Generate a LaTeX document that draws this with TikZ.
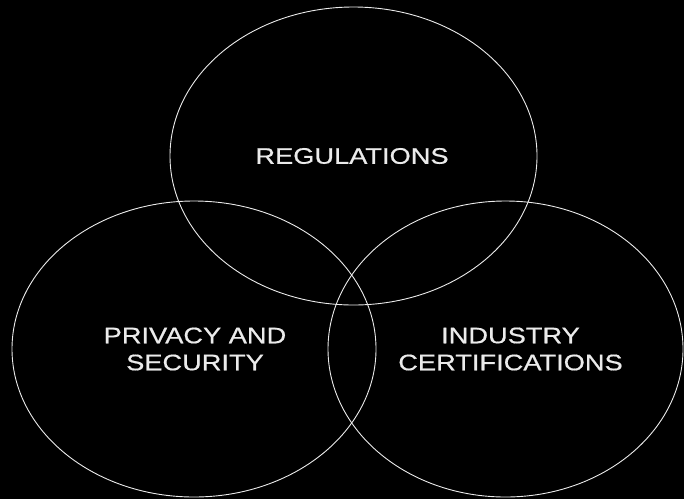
\documentclass[tikz,border=0pt]{standalone}
\usepackage{fontspec}
\newfontfamily\lab[FakeStretch=1.21,FakeBold=0.6]{Liberation Sans}
\begin{document}
\begin{tikzpicture}[x=1pt,y=-1pt,
  ring/.style={draw=white!92!black, line width=0.9pt},
  lbl/.style={text=white!92!black, font=\lab\fontsize{22.5}{27}\selectfont, align=center, inner sep=0pt}]
\fill[black] (0,0) rectangle (684,499);
\useasboundingbox (0,0) rectangle (684,499);
\draw[ring] (353.5,156) ellipse [x radius=183.5, y radius=149];
\draw[ring] (194,349) ellipse [x radius=182, y radius=148];
\draw[ring] (505.5,349) ellipse [x radius=177.5, y radius=148];
\node[lbl] (reg) at (352,156) {REGULATIONS};
\node[lbl] (priv) at (195,349) {PRIVACY AND\\SECURITY};
\node[lbl] (ind) at (510.5,349) {INDUSTRY\\CERTIFICATIONS};
\end{tikzpicture}
\end{document}
